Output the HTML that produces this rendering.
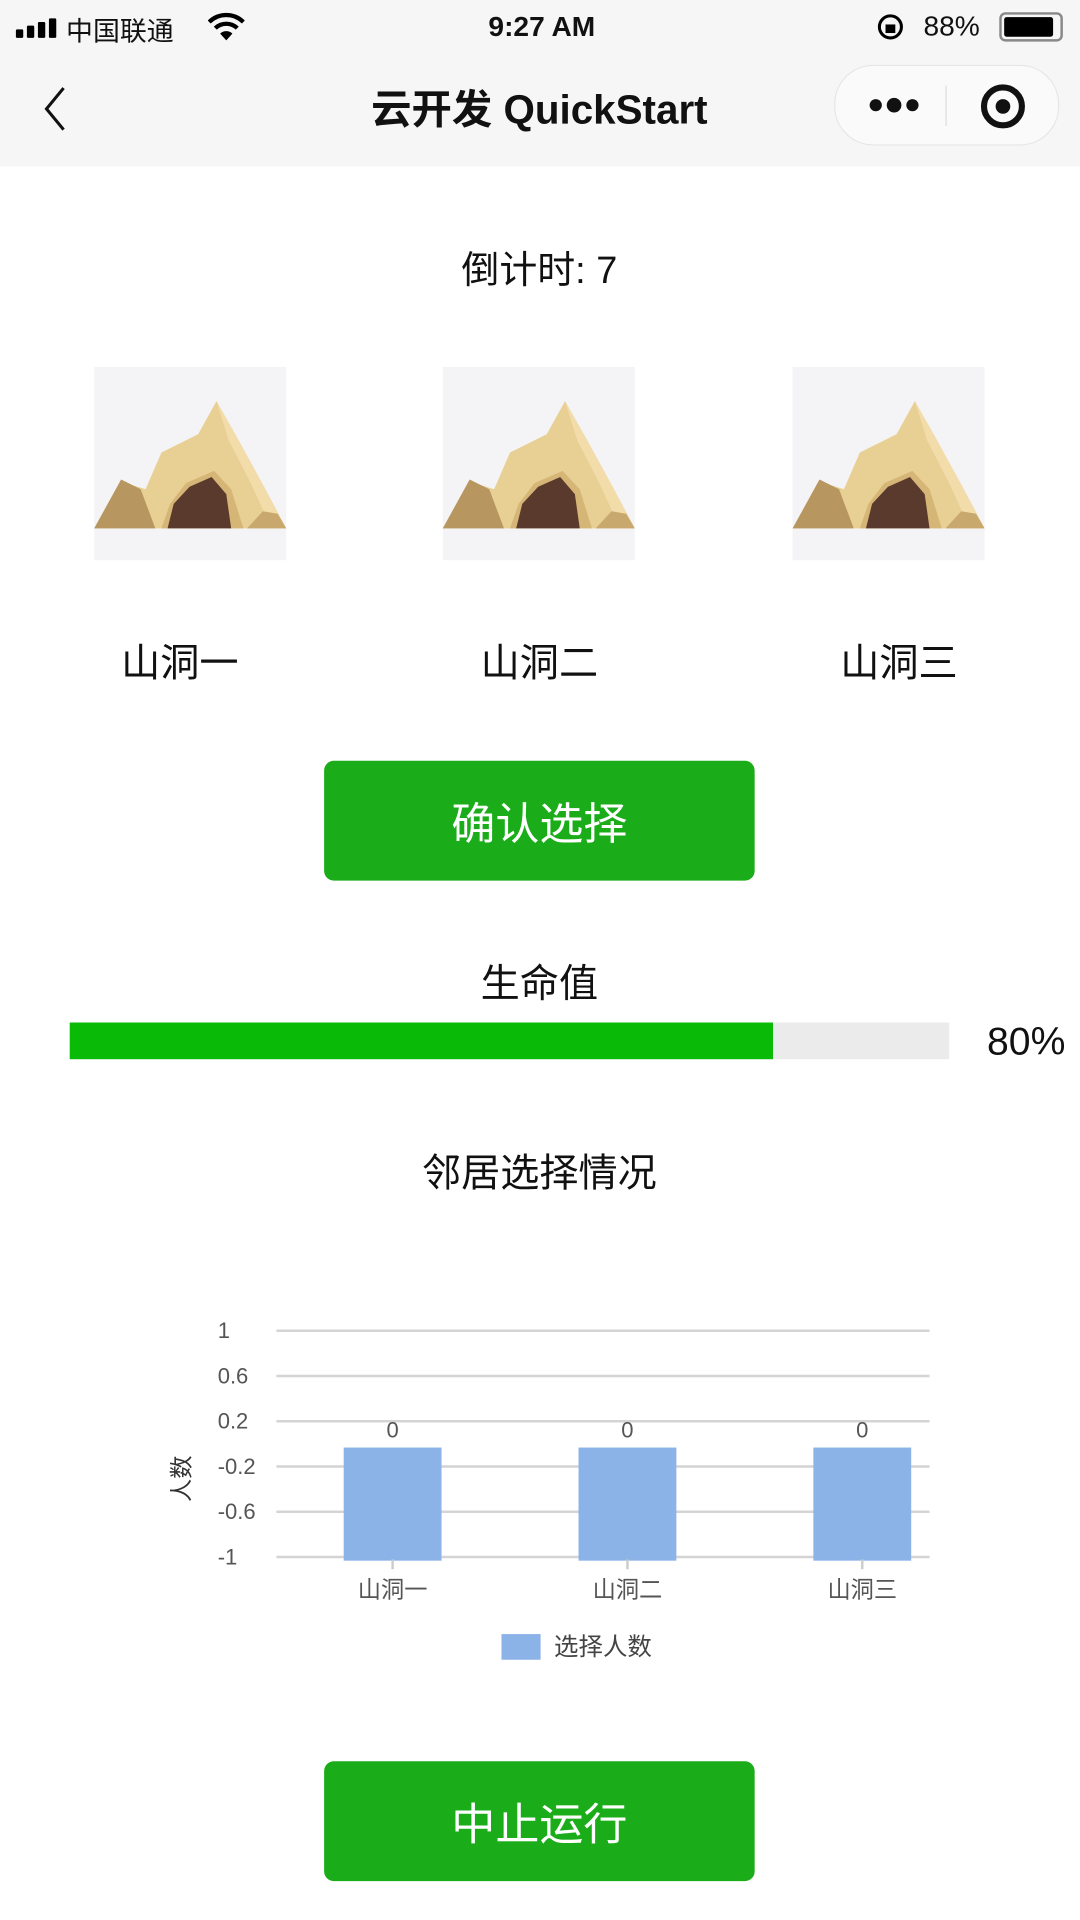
<!DOCTYPE html>
<html><head><meta charset="utf-8">
<style>
html,body{margin:0;padding:0;background:#fff;overflow:hidden;}
body{width:1080px;height:1920px;}
#s{position:absolute;left:0;top:0;width:883px;height:1570px;transform:scale(1.2231);transform-origin:0 0;font-family:"Liberation Sans","Noto Sans CJK SC",sans-serif;color:#111;}
.a{position:absolute;}
.c{position:absolute;transform:translate(-50%,-50%);white-space:nowrap;}
.btn{position:absolute;left:265px;width:352px;height:98px;background:#1aad19;border-radius:8px;color:#fff;font-size:36px;display:flex;align-items:center;justify-content:center;}
.cave{position:absolute;top:300px;width:157px;height:158px;background:#f4f4f6;}
</style></head><body>
<div id="s">
<div class="a" style="left:0;top:0;width:883px;height:44px;background:#f6f6f6"></div>
<div class="a" style="left:13px;top:16px;width:36px;height:14px">
<span class="a" style="left:0;top:8px;width:6px;height:7px;background:#000;border-radius:1px"></span><span class="a" style="left:9px;top:5px;width:6px;height:10px;background:#000;border-radius:1px"></span><span class="a" style="left:18px;top:2px;width:6px;height:13px;background:#000;border-radius:1px"></span><span class="a" style="left:27px;top:-1px;width:6px;height:16px;background:#000;border-radius:1px"></span></div>
<div class="a" style="left:54px;top:8px;font-size:22px">中国联通</div>
<svg class="a" style="left:170px;top:10px" width="30" height="24" viewBox="0 0 30 24">
<path d="M1 8 A20 20 0 0 1 29 8" stroke="#000" stroke-width="3.5" fill="none"/>
<path d="M6 13 A13 13 0 0 1 24 13" stroke="#000" stroke-width="3.5" fill="none"/>
<path d="M10 17.5 L15 23 L20 17.5 A7 7 0 0 0 10 17.5 Z" fill="#000"/></svg>
<div class="c" style="left:443px;top:22px;font-size:23px;font-weight:bold">9:27 AM</div>
<svg class="a" style="left:716px;top:10px" width="24" height="24"><circle cx="12" cy="12" r="9" stroke="#000" stroke-width="2.5" fill="none"/><rect x="8" y="10" width="8" height="7" fill="#000"/></svg>
<div class="a" style="left:755px;top:8px;font-size:23px">88%</div>
<div class="a" style="left:817px;top:10px;width:48px;height:20px;border:2px solid #888;border-radius:5px"><div style="margin:2px;width:40px;height:16px;background:#000;border-radius:2px"></div></div>
<div class="a" style="left:0;top:44px;width:883px;height:92px;background:#f6f6f6"></div>
<svg class="a" style="left:30px;top:68px" width="30" height="42"><path d="M22 4 L8 21 L22 38" stroke="#111" stroke-width="2.5" fill="none"/></svg>
<div class="c" style="left:441px;top:87px;font-size:33px;font-weight:bold">云开发 QuickStart</div>
<div class="a" style="left:682px;top:53px;width:182px;height:64px;background:#fafafa;border:1px solid #e6e6e6;border-radius:32px">
<span class="a" style="left:28px;top:27px;width:10px;height:10px;border-radius:50%;background:#111"></span>
<span class="a" style="left:42px;top:26px;width:12px;height:12px;border-radius:50%;background:#111"></span>
<span class="a" style="left:58px;top:27px;width:10px;height:10px;border-radius:50%;background:#111"></span>
<div class="a" style="left:90px;top:16px;width:1px;height:33px;background:#ddd"></div>
<div class="a" style="left:119px;top:15px;width:26px;height:26px;border:5px solid #111;border-radius:50%"><div style="margin:7px;width:12px;height:12px;border-radius:50%;background:#111"></div></div></div>

<div class="c" style="left:441px;top:218px;font-size:31px">倒计时: 7</div>

<svg width="0" height="0" style="position:absolute"><defs><g id="cv">
<polygon points="0,132 26,95 42,100 55,70 85,55 100,28 117,58 140,100 157,132" fill="#e8cf94"/>
<polygon points="100,28 117,58 140,100 157,132 145,132 128,95 110,60" fill="#f2dcaa"/>
<polygon points="0,132 22,92 38,100 50,132" fill="#b8965f"/>
<polygon points="55,132 62,112 75,95 98,85 112,100 122,132" fill="#d6b677"/>
<polygon points="60,132 65,112 78,98 96,90 108,104 112,132" fill="#5a3a2c"/>
<polygon points="125,132 138,118 150,120 157,132" fill="#c8a86c"/>
</g></defs></svg>
<div class="cave" style="left:77px"><svg width="157" height="158"><use href="#cv"/></svg></div>
<div class="cave" style="left:362px"><svg width="157" height="158"><use href="#cv"/></svg></div>
<div class="cave" style="left:648px"><svg width="157" height="158"><use href="#cv"/></svg></div>
<div class="c" style="left:147px;top:540px;font-size:32px">山洞一</div>
<div class="c" style="left:441px;top:540px;font-size:32px">山洞二</div>
<div class="c" style="left:735px;top:540px;font-size:32px">山洞三</div>

<div class="btn" style="top:622px">确认选择</div>

<div class="c" style="left:441px;top:802px;font-size:32px">生命值</div>
<div class="a" style="left:57px;top:836px;width:719px;height:30px;background:#ebebeb"><div style="width:80%;height:100%;background:#09bb07"></div></div>
<div class="a" style="left:807px;top:833px;font-size:32px">80%</div>

<div class="c" style="left:441px;top:957px;font-size:32px">邻居选择情况</div>

<svg id="chart" class="a" style="left:0;top:1040px" width="883" height="340"></svg>

<div class="btn" style="top:1440px">中止运行</div>
</div>
<script>
const categories=["山洞一","山洞二","山洞三"];
const values=[0,0,0];
const yTicks=[1,0.6,0.2,-0.2,-0.6,-1];
const seriesName="选择人数";
const svg=document.getElementById('chart');
const NS='http://www.w3.org/2000/svg';
const x0=226,x1=760,b0=225,b1=801,yTop=48,yBot=233;
function y(v){return yTop+(1-v)/2*(yBot-yTop);}
function xc(i){return b0+(b1-b0)*(i+0.5)/categories.length;}
function mk(t,a,txt){const e=document.createElementNS(NS,t);for(const k in a)e.setAttribute(k,a[k]);if(txt!==undefined)e.textContent=txt;svg.appendChild(e);return e;}
const F='Liberation Sans, Noto Sans CJK SC, sans-serif';
yTicks.forEach(v=>{
 const l=mk('line',{x1:x0,x2:x1,y1:y(v),y2:y(v),stroke:'#d4d4d4','stroke-width':2});
 
 
 const t=mk('text',{x:178,y:y(v)+6,'font-size':18,fill:'#555','font-family':F},String(v));
 
 
});
const bw=80;
categories.forEach((c,i)=>{
 const v=values[i];
 const ya=Math.min(y(v),y(-1)),yb=Math.max(y(v),y(-1));
 const r=mk('rect',{x:xc(i)-bw/2,y:ya+3,width:bw,height:yb-ya,fill:'#8cb3e8'});
 
 
 const lb=mk('text',{x:xc(i),y:y(v)-5,'font-size':18,fill:'#555','text-anchor':'middle','font-family':F},String(v));
 
 
 const tk=mk('line',{x1:xc(i),x2:xc(i),y1:yBot+2,y2:yBot+10,stroke:'#ccc','stroke-width':2});
 
 
 const xl=mk('text',{x:xc(i),y:yBot+33,'font-size':19,fill:'#555','text-anchor':'middle','font-family':F},c);
 
 
});
const yt=mk('text',{x:0,y:0,'font-size':19,fill:'#333','text-anchor':'middle','font-family':F,transform:'translate(155,'+(y(-0.2)+10)+') rotate(-90)'},'人数');


const sw=mk('rect',{x:410,y:296,width:32,height:21,fill:'#8cb3e8'});


const lt=mk('text',{x:453,y:313,'font-size':20,fill:'#444','font-family':F},seriesName);


</script>
</body></html>
